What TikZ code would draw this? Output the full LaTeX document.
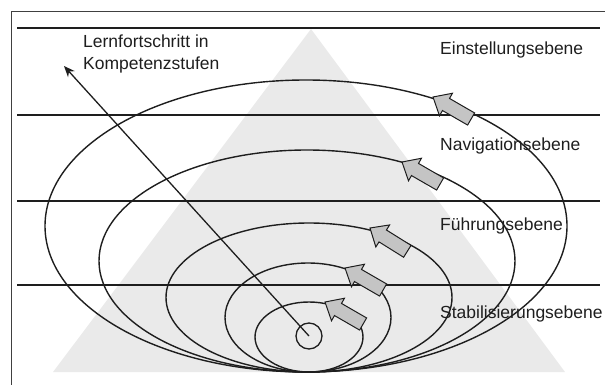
\documentclass[tikz,border=0pt]{standalone}
\usepackage{fontspec}
\setmainfont{Liberation Sans}
\usetikzlibrary{arrows.meta}
\definecolor{pyr}{HTML}{EAEAEA}
\definecolor{ink}{HTML}{1E1E1E}
\definecolor{blk}{HTML}{C4C4C4}
\tikzset{
  level/.style={draw=ink, line width=1.2pt},
  ring/.style={draw=ink, line width=1.4pt},
  lbl/.style={anchor=base west, inner sep=0pt, text=ink, font=\fontsize{17.5}{20}\selectfont},
  blockarrow/.style={fill=blk, draw=ink, line width=1pt, line join=miter},
}
\newcommand{\blockarr}[2]{%
  \begin{scope}[shift={#1}, rotate=#2]
    \filldraw[blockarrow] (0,0) -- (-15,13) -- (-15,7) -- (-44,7) -- (-44,-7) -- (-15,-7) -- (-15,-13) -- cycle;
  \end{scope}}
\begin{document}
\begin{tikzpicture}[x=1pt, y=-1pt]
  \useasboundingbox (0,0) rectangle (605,385);
  % frame
  \draw[draw=ink!85, line width=1pt] (11,385) -- (11,12) -- (605,12);
  % pyramid
  \fill[pyr] (311,29) -- (565,372) -- (53,372) -- cycle;
  % level lines
  \coordinate (l1a) at (17,28);  \coordinate (l1b) at (600,28);
  \coordinate (l2a) at (17,115); \coordinate (l2b) at (600,115);
  \coordinate (l3a) at (17,201); \coordinate (l3b) at (600,201);
  \coordinate (l4a) at (17,285); \coordinate (l4b) at (600,285);
  \draw[level] (l1a) -- (l1b);
  \draw[level] (l2a) -- (l2b);
  \draw[level] (l3a) -- (l3b);
  \draw[level] (l4a) -- (l4b);
  % ellipses
  \draw[ring] (306,226) ellipse [x radius=261, y radius=146];
  \draw[ring] (307,261) ellipse [x radius=208, y radius=111];
  \draw[ring] (309,297.5) ellipse [x radius=143, y radius=74.5];
  \draw[ring] (308,317.5) ellipse [x radius=83, y radius=54.5];
  \draw[ring] (309,337) ellipse [x radius=54, y radius=35];
  % small circle and progress arrow
  \node[draw=ink, line width=1.3pt, ellipse/.style={}, circle, minimum size=26pt, inner sep=0pt] (c0) at (309,336) {};
  \coordinate (tipL) at (64,66);
  \draw[draw=ink, line width=1.3pt, -{Stealth[length=11pt, width=9pt]}] (c0.center) -- (tipL);
  % block arrows
  \blockarr{(433,97)}{150}
  \blockarr{(402,162)}{150}
  \blockarr{(370,228)}{148}
  \blockarr{(345,268)}{150}
  \blockarr{(325,302)}{150}
  % labels
  \node[lbl] (t1) at (83,48) {Lernfortschritt in};
  \node[lbl] (t2) at (83,70) {Kompetenzstufen};
  \node[lbl] (e1) at (440,55) {Einstellungsebene};
  \node[lbl] (e2) at (440,150) {Navigationsebene};
  \node[lbl] (e3) at (440,230) {Führungsebene};
  \node[lbl] (e4) at (440,318) {Stabilisierungsebene};
\end{tikzpicture}
\end{document}
